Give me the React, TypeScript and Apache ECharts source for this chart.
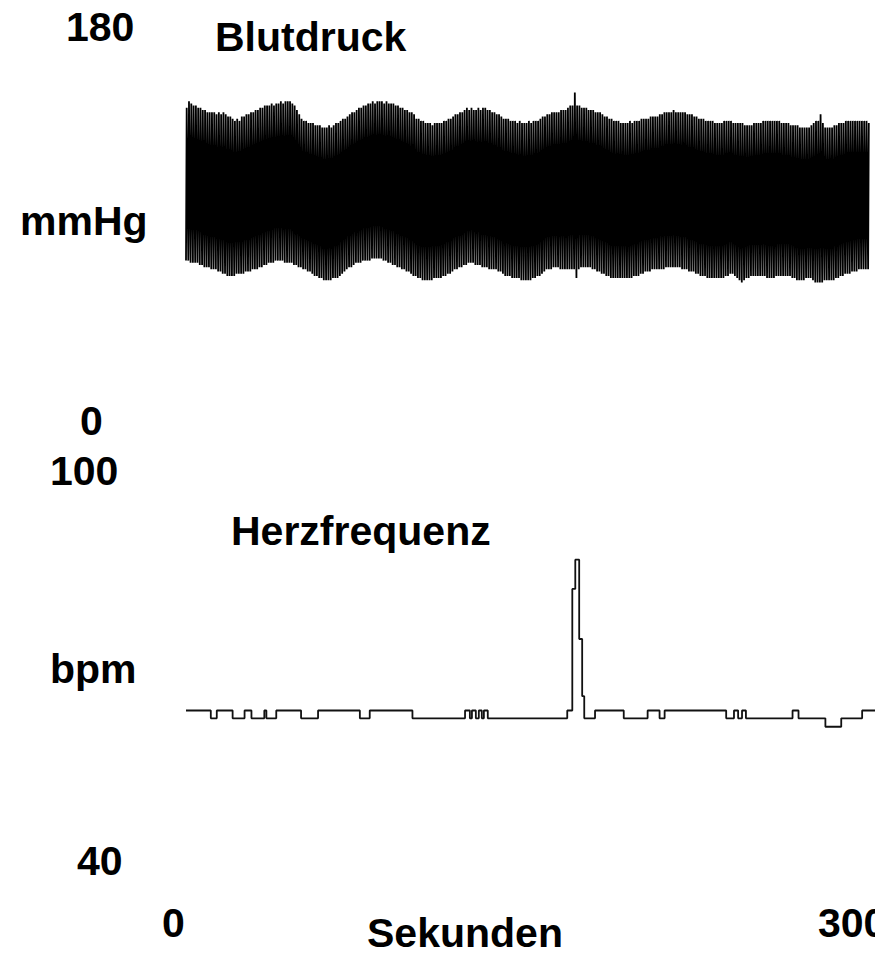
import React, { useEffect, useRef } from "react";
import * as echarts from "echarts";

// Blood pressure: per-beat systolic peaks and diastolic troughs (mmHg), one beat per second
const sysV = [
  143,146,145,144,144, 143,143,142,142,141, 141,141,141,140,141, 140,141,140,139,139,
  138,137,138,137,139, 139,140,140,141,141, 142,142,143,143,144, 144,144,145,144,145,
  145,146,145,146,146, 146,145,144,142,140, 138,137,137,136,136, 136,135,135,135,134,
  134,134,135,134,135, 136,136,137,138,138, 139,140,141,141,142, 143,143,144,144,145,
  145,146,145,146,146, 146,145,146,145,145, 145,144,144,143,143, 142,142,141,141,140,
  138,138,137,137,136, 136,136,135,136,136, 136,136,137,137,138, 138,139,140,140,141,
  141,142,143,142,143, 142,142,143,142,143, 143,142,142,141,141, 140,140,139,138,138,
  138,137,137,137,136, 137,136,136,136,137, 136,137,137,137,138, 139,139,140,140,141,
  141,141,141,142,142, 142,143,144,144,150, 144,144,143,143,143, 142,142,142,141,141,
  141,140,139,139,138, 138,137,137,137,136, 136,136,136,137,136, 137,137,137,138,138,
  138,138,139,139,139, 139,140,140,141,141, 141,141,142,141,141, 141,141,141,140,140,
  140,139,139,138,138, 138,137,137,137,137, 136,136,136,136,137, 137,137,137,136,136,
  136,136,136,135,135, 135,135,136,136,136, 136,137,137,137,137, 137,137,137,137,136,
  136,136,136,135,135, 135,135,134,134,134, 134,134,135,136,137, 137,140,136,134,134,
  134,134,135,135,136, 136,136,137,137,137, 137,137,137,137,137, 137,137,136
];
const diaV = [
  73,73,72,72,72, 72,71,71,70,70, 70,69,69,69,68, 68,67,67,66,66,
  66,66,67,67,67, 67,68,68,68,69, 69,69,70,70,71, 71,72,72,72,73,
  73,73,73,72,72, 72,72,71,71,70, 70,69,69,68,68, 67,66,66,65,65,
  64,64,64,64,65, 65,65,66,67,68, 69,70,70,71,72, 72,72,73,73,73,
  73,74,74,74,74, 74,73,73,72,72, 71,71,70,70,69, 69,68,68,67,66,
  66,65,65,64,64, 64,64,64,65,65, 65,65,66,66,67, 67,68,69,69,70,
  70,71,71,72,72, 72,71,71,71,70, 70,70,69,69,69, 69,68,68,67,66,
  66,66,65,65,65, 65,64,64,64,64, 64,65,65,66,66, 67,68,69,69,69,
  70,70,70,69,69, 69,69,69,69,69, 65,69,70,70,70, 70,70,69,69,68,
  68,67,67,66,66, 65,65,65,65,65, 65,65,65,65,65, 66,66,66,67,67,
  68,68,68,69,69, 69,69,69,69,70, 70,70,70,70,70, 70,69,69,69,68,
  68,68,67,67,66, 66,66,65,65,65, 65,65,65,65,65, 66,66,67,67,66,
  65,64,63,64,65, 65,66,66,66,66, 66,66,66,65,65, 65,65,66,66,66,
  66,66,66,66,65, 65,64,64,64,64, 65,65,65,64,63, 63,63,63,64,64,
  64,64,64,65,65, 66,66,67,67,67, 68,68,68,69,69, 69,69,69
];

// Heart rate: step change times (s) and levels (bpm)
const hrT = [0,10.8,13.4,20.3,25.5,28.5,34.1,35.0,39.3,50.1,57.5,75.7,80.0,98.6,121.5,123.6,124.5,126.2,127.5,128.8,
  129.7,131.4,166.0,168.2,169.5,171.2,172.5,173.4,178.1,190.6,201.0,206.2,208.4,235.2,238.6,240.4,242.1,243.8,264.1,266.7,
  278.4,285.3,294.4,300];
const hrV = [63,61.8,63,61.8,63,61.8,63,61.8,63,61.8, 63,61.8,63,61.8,63,61.8,63,61.8,63,61.8,
  63,61.8,63,81.7,86.2,74.0,65.2,61.8,63,61.8, 63,61.8,63,61.8,63,61.8,63,61.8,63,61.8,
  60.5,61.8,63,63];

const bpTicks = ["180", "0"];
const hrTicks = ["100", "40"];
const xTicks = ["0", "300"];

export default function App() {
  const ref = useRef<HTMLDivElement>(null);
  useEffect(() => {
    if (!ref.current) return;
    const chart = echarts.init(ref.current, undefined, { renderer: "svg" });
    const bpData: number[][] = [];
    for (let i = 0; i < sysV.length; i++) {
      bpData.push([i, diaV[i]]);
      bpData.push([i + 0.3, sysV[i]]);
    }
    const hrData = hrT.map((t, i) => [t, hrV[i]]);
    const font = { fontFamily: "Liberation Sans, Arial, sans-serif", fontWeight: "bold", fontSize: 41, fill: "#000" };
    const txt = (text: string, x: number, y: number, align = "left") => ({
      type: "text", x, y, style: { ...font, text, textAlign: align, textVerticalAlign: "middle" },
    });
    chart.setOption({
      animation: false,
      backgroundColor: "#fff",
      grid: [
        { left: 186, top: 27, width: 694, height: 393 },
        { left: 186, top: 470, width: 694, height: 390 },
      ],
      xAxis: [
        { type: "value", gridIndex: 0, min: 0, max: 300, show: false },
        { type: "value", gridIndex: 1, min: 0, max: 300, show: false },
      ],
      yAxis: [
        { type: "value", gridIndex: 0, min: 0, max: 180, show: false },
        { type: "value", gridIndex: 1, min: 40, max: 100, show: false },
      ],
      series: [
        {
          type: "line", xAxisIndex: 0, yAxisIndex: 0, data: bpData, showSymbol: false,
          lineStyle: { color: "#000", width: 1.8 }, clip: false,
        },
        {
          type: "line", xAxisIndex: 1, yAxisIndex: 1, data: hrData, step: "end", showSymbol: false,
          lineStyle: { color: "#111", width: 1.8 }, clip: false,
        },
      ],
      graphic: [
        txt(bpTicks[0], 66, 27),
        txt("Blutdruck", 215, 37),
        txt("mmHg", 20, 221),
        txt(bpTicks[1], 80, 421),
        txt(hrTicks[0], 50, 471),
        txt("Herzfrequenz", 231, 531),
        txt("bpm", 50, 669),
        txt(hrTicks[1], 77, 861),
        txt(xTicks[0], 162, 923),
        txt("Sekunden", 367, 933),
        txt(xTicks[1], 818, 923),
      ],
    });
    return () => chart.dispose();
  }, []);
  return (
    <div
      ref={ref}
      style={{ position: "fixed", left: 0, top: 0, width: 875, height: 954, background: "#fff" }}
    />
  );
}
